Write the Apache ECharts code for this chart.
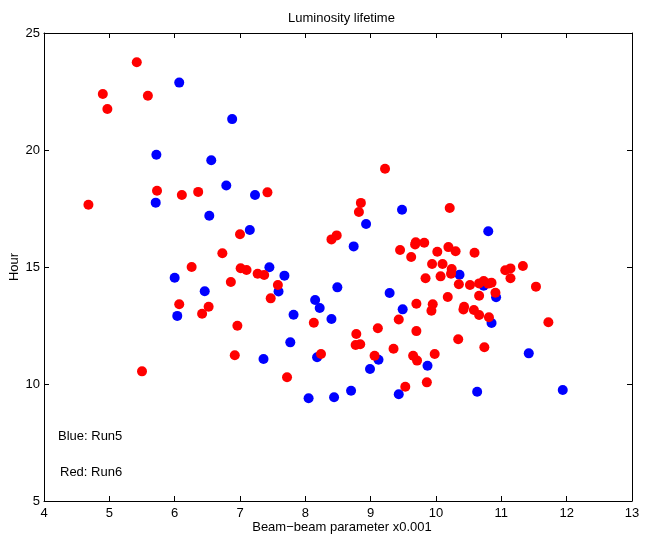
<!DOCTYPE html>
<html>
<head>
<meta charset="utf-8">
<script src="https://cdn.jsdelivr.net/npm/echarts@6/dist/echarts.min.js"></script>
<style>html,body{margin:0;padding:0;background:#fff;}#c{width:647px;height:536px;}</style>
</head>
<body>
<div id="c"></div>
<script>
const titleText = 'Luminosity lifetime';
const xName = 'Beam\u2212beam parameter x0.001';
const yName = 'Hour';
const xTicks = {min: 4, max: 13, interval: 1};
const yTicks = {min: 5, max: 25, interval: 5};
const notes = ['Blue: Run5', 'Red: Run6'];

const run5 = [
  [6.07,22.88],[6.88,21.32],[5.72,19.80],[6.56,19.56],[6.79,18.48],[5.71,17.75],
  [6.53,17.19],[6.00,14.54],[6.46,13.96],[6.04,12.91],[7.23,18.08],[9.48,17.45],
  [8.93,16.84],[7.15,16.58],[8.74,15.88],[7.45,14.99],[7.68,14.63],[7.59,13.95],
  [8.49,14.13],[9.29,13.89],[8.15,13.59],[8.22,13.25],[7.82,12.96],[8.40,12.78],
  [9.49,13.19],[7.77,11.78],[7.36,11.07],[8.18,11.14],[9.12,11.04],[8.99,10.64],
  [8.70,9.71],[9.43,9.56],[8.05,9.39],[8.44,9.43],[10.80,16.53],[10.36,14.67],
  [10.73,14.20],[10.92,13.71],[10.85,12.61],[11.42,11.31],[9.87,10.78],[10.63,9.67],
  [11.94,9.74]
];

const run6 = [
  [5.42,23.75],[4.90,22.39],[5.59,22.32],[4.97,21.75],[5.73,18.26],[6.11,18.08],
  [6.36,18.21],[4.68,17.66],[7.00,16.40],[6.73,15.59],[6.26,15.00],[7.01,14.95],
  [7.10,14.87],[6.86,14.36],[6.07,13.41],[6.52,13.30],[6.42,13.00],[6.96,12.49],
  [6.92,11.23],[5.50,10.54],[9.22,19.20],[7.42,18.19],[8.85,17.74],[8.82,17.35],
  [8.48,16.35],[8.40,16.18],[9.69,16.06],[9.68,15.96],[9.45,15.73],[9.62,15.43],
  [7.27,14.71],[7.37,14.66],[7.58,14.23],[7.47,13.66],[8.13,12.62],[9.43,12.76],
  [9.70,13.43],[9.70,12.26],[9.11,12.38],[8.78,12.14],[8.77,11.67],[8.84,11.70],
  [8.24,11.28],[9.06,11.21],[9.35,11.51],[9.65,11.21],[9.71,11.00],[7.72,10.29],
  [9.53,9.88],[10.21,17.52],[9.82,16.04],[10.02,15.65],[10.19,15.85],[10.30,15.67],
  [10.59,15.61],[9.94,15.13],[10.10,15.13],[10.24,14.91],[10.23,14.71],[9.84,14.52],
  [10.07,14.60],[11.06,14.86],[11.14,14.94],[11.33,15.04],[11.14,14.52],[10.35,14.26],
  [10.52,14.23],[10.66,14.30],[10.73,14.40],[10.80,14.29],[10.85,14.33],[11.53,14.16],
  [10.66,13.77],[10.91,13.90],[10.18,13.72],[9.95,13.41],[9.93,13.13],[10.43,13.30],
  [10.42,13.18],[10.58,13.16],[10.66,12.95],[10.81,12.85],[11.72,12.64],[10.34,11.91],
  [10.74,11.57],[9.98,11.28],[9.86,10.07]
];

const font = 'Liberation Sans, Arial, Helvetica, sans-serif';
const axisCommon = {
  axisLine: {show: true, onZero: false, lineStyle: {color: '#000', width: 1}},
  axisTick: {show: true, inside: true, length: 5, lineStyle: {color: '#000'}},
  splitLine: {show: false}
};

const chart = echarts.init(document.getElementById('c'), null, {renderer: 'canvas'});
chart.setOption({
  animation: false,
  backgroundColor: '#fff',
  title: {
    text: titleText, left: 283, top: 7,
    textStyle: {fontFamily: font, fontSize: 13, fontWeight: 'normal', color: '#000'}
  },
  grid: {left: 44, right: 15, top: 33, bottom: 35, containLabel: false, outerBoundsMode: 'none'},
  xAxis: [
    Object.assign({
      type: 'value', position: 'bottom', min: xTicks.min, max: xTicks.max, interval: xTicks.interval,
      name: xName, nameLocation: 'middle', nameGap: 20, nameMoveOverlap: false,
      nameTextStyle: {fontFamily: font, fontSize: 13, color: '#000', padding: [0, 0, 0, 8]},
      axisLabel: {fontFamily: font, fontSize: 13, color: '#000', margin: 6}
    }, axisCommon),
    Object.assign({
      type: 'value', position: 'top', min: xTicks.min, max: xTicks.max, interval: xTicks.interval,
      axisLabel: {show: false}
    }, axisCommon)
  ],
  yAxis: [
    Object.assign({
      type: 'value', position: 'left', min: yTicks.min, max: yTicks.max, interval: yTicks.interval,
      name: yName, nameLocation: 'middle', nameGap: 23, nameRotate: 90, nameMoveOverlap: false,
      nameTextStyle: {fontFamily: font, fontSize: 13, color: '#000'},
      axisLabel: {fontFamily: font, fontSize: 13, color: '#000', margin: 4}
    }, axisCommon),
    Object.assign({
      type: 'value', position: 'right', min: yTicks.min, max: yTicks.max, interval: yTicks.interval,
      axisLabel: {show: false}
    }, axisCommon)
  ],
  graphic: [
    {type: 'text', left: 58, top: 430, style: {text: notes[0], font: '13px ' + font, fill: '#000'}},
    {type: 'text', left: 60, top: 466, style: {text: notes[1], font: '13px ' + font, fill: '#000'}}
  ],
  series: [
    {type: 'scatter', name: 'Run5', data: run5, symbol: 'circle', symbolSize: 10,
     itemStyle: {color: '#0000ff', opacity: 1}, xAxisIndex: 0, yAxisIndex: 0},
    {type: 'scatter', name: 'Run6', data: run6, symbol: 'circle', symbolSize: 10,
     itemStyle: {color: '#ff0000', opacity: 1}, xAxisIndex: 0, yAxisIndex: 0}
  ]
});
</script>
</body>
</html>
